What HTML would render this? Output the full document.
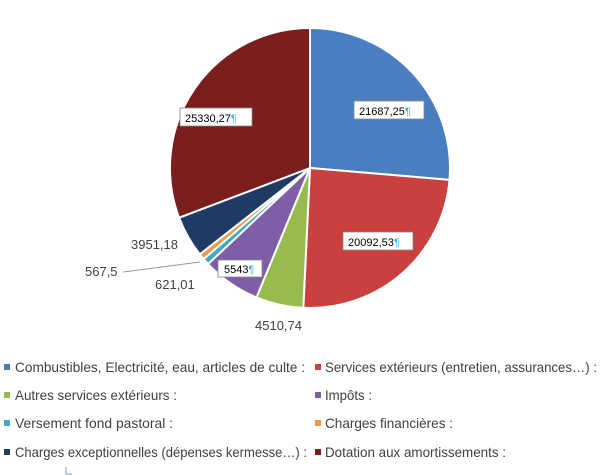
<!DOCTYPE html>
<html><head><meta charset="utf-8"><style>
body{margin:0;background:#fff;width:600px;height:475px;overflow:hidden;font-family:"Liberation Sans",sans-serif}
</style></head><body>
<svg width="600" height="475" xmlns="http://www.w3.org/2000/svg" style="position:absolute;left:0;top:0">
<g stroke="#fff" stroke-width="2" stroke-linejoin="round">
<path d="M310,168 L310,28 A140,140 0 0 1 449.5,179.9 Z" fill="#4a7ec0"/>
<path d="M310,168 L449.5,179.9 A140,140 0 0 1 303.3,307.8 Z" fill="#c9403f"/>
<path d="M310,168 L303.3,307.8 A140,140 0 0 1 256.5,297.4 Z" fill="#97bb4f"/>
<path d="M310,168 L256.5,297.4 A140,140 0 0 1 208.1,264 Z" fill="#7f5ea8"/>
<path d="M310,168 L208.1,264 A140,140 0 0 1 203.6,259 Z" fill="#40a9c6"/>
<path d="M310,168 L203.6,259 A140,140 0 0 1 199.8,254.3 Z" fill="#f2964a"/>
<path d="M310,168 L199.8,254.3 A140,140 0 0 1 179.1,217.7 Z" fill="#1f3b63"/>
<path d="M310,168 L179.1,217.7 A140,140 0 0 1 310,28 Z" fill="#7a1e1e"/>
</g>
<line x1="123" y1="272" x2="200" y2="262" stroke="#999" stroke-width="1"/>
<g font-size="11" fill="#000">
<rect x="354" y="101" width="70" height="18" fill="#fff" stroke="#888" stroke-width="0.8"/>
<text x="359" y="115">21687,25<tspan fill="#4aa8e0">¶</tspan></text>
<rect x="343" y="232" width="70" height="18" fill="#fff" stroke="#888" stroke-width="0.8"/>
<text x="348" y="246">20092,53<tspan fill="#4aa8e0">¶</tspan></text>
<rect x="218" y="260" width="44" height="17" fill="#fff" stroke="#888" stroke-width="0.8"/>
<text x="224" y="273">5543<tspan fill="#4aa8e0">¶</tspan></text>
<rect x="180" y="108" width="72" height="18" fill="#fff" stroke="#888" stroke-width="0.8"/>
<text x="185" y="122">25330,27<tspan fill="#4aa8e0">¶</tspan></text>
</g>
<g font-size="13" fill="#404040">
<text x="131" y="249">3951,18</text>
<text x="85" y="276">567,5</text>
<text x="155" y="289">621,01</text>
<text x="255" y="330">4510,74</text>
</g>
<g font-size="14" fill="#404040">
<rect x="4" y="364" width="6" height="6" fill="#4a7ec0"/><text x="15" y="372" textLength="290" lengthAdjust="spacingAndGlyphs">Combustibles, Electricité, eau, articles de culte :</text>
<rect x="315" y="364" width="6" height="6" fill="#c9403f"/><text x="325" y="372" textLength="272" lengthAdjust="spacingAndGlyphs">Services extérieurs (entretien, assurances…) :</text>
<rect x="4" y="392" width="6" height="6" fill="#97bb4f"/><text x="15" y="400" textLength="162" lengthAdjust="spacingAndGlyphs">Autres services extérieurs :</text>
<rect x="315" y="392" width="6" height="6" fill="#7f5ea8"/><text x="325" y="400" textLength="47" lengthAdjust="spacingAndGlyphs">Impôts :</text>
<rect x="4" y="420" width="6" height="6" fill="#40a9c6"/><text x="15" y="428" textLength="158" lengthAdjust="spacingAndGlyphs">Versement fond pastoral :</text>
<rect x="315" y="420" width="6" height="6" fill="#f2964a"/><text x="325" y="428" textLength="128" lengthAdjust="spacingAndGlyphs">Charges financières :</text>
<rect x="4" y="449" width="6" height="6" fill="#1f3b63"/><text x="15" y="457" textLength="292" lengthAdjust="spacingAndGlyphs">Charges exceptionnelles (dépenses kermesse…) :</text>
<rect x="315" y="449" width="6" height="6" fill="#7a1e1e"/><text x="325" y="457" textLength="181" lengthAdjust="spacingAndGlyphs">Dotation aux amortissements :</text>
</g>
<path d="M66,467 V474 H72" stroke="#6aa6e0" fill="none" stroke-width="1"/>
</svg>
</body></html>
